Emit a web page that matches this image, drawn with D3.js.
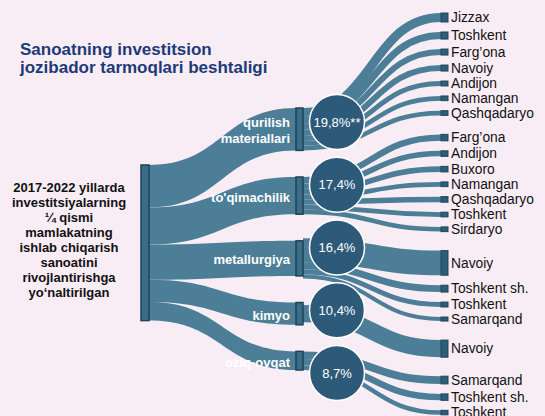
<!DOCTYPE html>
<html><head><meta charset="utf-8">
<script src="https://cdn.jsdelivr.net/npm/d3@7"></script>
<style>body{margin:0;background:#f8edf5} svg{display:block}</style>
</head><body><svg id="c" width="545" height="416"></svg>
<script>
// ---------- data ----------
const titleLines = ["Sanoatning investitsion", "jozibador tarmoqlari beshtaligi"];
const sourceLines = ["2017-2022 yillarda", "investitsiyalarning", "¼ qismi", "mamlakatning",
  "ishlab chiqarish", "sanoatini", "rivojlantirishga", "yo‘naltirilgan"];
const sectors = ["qurilish materiallari", "to'qimachilik", "metallurgiya", "kimyo", "oziq-ovqat"];
const sectorLabels = [["qurilish", "materiallari"], ["to'qimachilik"], ["metallurgiya"], ["kimyo"], ["oziq-ovqat"]];
const sectorShares = [19.8, 17.4, 16.4, 10.4, 8.7];
const shareLabels = ["19,8%**", "17,4%", "16,4%", "10,4%", "8,7%"];
const regionNames = [
  ["Jizzax", "Toshkent", "Farg’ona", "Navoiy", "Andijon", "Namangan", "Qashqadaryo"],
  ["Farg’ona", "Andijon", "Buxoro", "Namangan", "Qashqadaryo", "Toshkent", "Sirdaryo"],
  ["Navoiy", "Toshkent sh.", "Toshkent", "Samarqand"],
  ["Navoiy"],
  ["Samarqand", "Toshkent sh.", "Toshkent"]
];
const regionValues = [
  [4.2, 3.3, 2.8, 2.8, 2.3, 2.2, 2.2],
  [3.0, 2.6, 2.6, 2.2, 2.6, 2.2, 2.2],
  [11.5, 3.2, 2.3, 1.9],
  [8.0],
  [3.6, 3.0, 2.1]
];

// ---------- layout ----------
const svg = d3.select("#c");
const FONT = "'Liberation Sans', Arial, Helvetica, sans-serif";
const linkColor = "#4d7e97";
const nodeFill = "#3c6c86", nodeStroke = "#1b4359";

const total = d3.sum(sectorShares);
const h = d3.scaleLinear().domain([0, total]).range([0, 155.6]); // value -> px thickness

const col = {src: [141, 149], mid: [296, 303], right: [441, 448]};

// source node
const srcTop = 165;
const srcH = h(total);

// middle nodes: stacked between midTop and midBottom with equal gaps
const midTop = 108, midBottom = 370;
const midHeights = sectorShares.map(v => h(v));
const midGap = (midBottom - midTop - d3.sum(midHeights)) / (sectors.length - 1);
let acc = midTop;
const mids = sectors.map((s, i) => {
  const n = {name: s, y0: acc, y1: acc + midHeights[i]};
  acc = n.y1 + midGap;
  return n;
});

// circles
const circleY = d3.scalePoint().domain(sectors).range([122, 373]);
const R = 27.5;

// right nodes
const rightTop = 13, innerPad = 10, groupPad = 19;
acc = rightTop;
const rights = [];
regionNames.forEach((g, gi) => {
  if (gi > 0) acc += groupPad - innerPad;
  g.forEach((name, j) => {
    const hh = h(regionValues[gi][j]);
    rights.push({name, group: gi, value: regionValues[gi][j], y0: acc, y1: acc + hh});
    acc += hh + innerPad;
  });
});

// ---------- links source -> middle (ribbons) ----------
function ribbon(x0, y0a, y0b, x1, y1a, y1b) {
  const xm = (x0 + x1) / 2;
  return `M${x0},${y0a}C${xm},${y0a} ${xm},${y1a} ${x1},${y1a}L${x1},${y1b}C${xm},${y1b} ${xm},${y0b} ${x0},${y0b}Z`;
}
let sAcc = srcTop;
const srcLinks = mids.map((m, i) => {
  const a = sAcc, b = sAcc + midHeights[i];
  sAcc = b;
  return {a, b, m};
});
svg.append("g").selectAll("path").data(srcLinks).join("path")
  .attr("d", d => ribbon(col.src[1], d.a, d.b, col.mid[0], d.m.y0, d.m.y1))
  .attr("fill", linkColor);

// ---------- links middle -> right (strokes) ----------
const link = d3.linkHorizontal().x(d => d[0]).y(d => d[1]);
const rLinks = [];
mids.forEach((m, gi) => {
  const group = rights.filter(r => r.group === gi);
  const sum = d3.sum(group, r => r.y1 - r.y0);
  let y = (m.y0 + m.y1) / 2 - sum / 2;
  group.forEach(r => {
    const w = r.y1 - r.y0;
    rLinks.push({sy: y + w / 2, ty: (r.y0 + r.y1) / 2, w});
    y += w;
  });
});
svg.append("g").selectAll("path").data(rLinks).join("path")
  .attr("d", d => link({source: [col.mid[1], d.sy], target: [col.right[0], d.ty]}))
  .attr("fill", "none").attr("stroke", linkColor).attr("stroke-width", d => d.w);

// ---------- nodes ----------
svg.append("rect").attr("x", col.src[0]).attr("y", srcTop)
  .attr("width", col.src[1] - col.src[0]).attr("height", srcH)
  .attr("fill", nodeFill).attr("stroke", nodeStroke).attr("stroke-width", 1.5);

svg.append("g").selectAll("rect").data(mids).join("rect")
  .attr("x", col.mid[0]).attr("y", d => d.y0)
  .attr("width", col.mid[1] - col.mid[0]).attr("height", d => d.y1 - d.y0)
  .attr("fill", nodeFill).attr("stroke", nodeStroke).attr("stroke-width", 1.5);

svg.append("g").selectAll("rect").data(rights).join("rect")
  .attr("x", col.right[0]).attr("y", d => d.y0)
  .attr("width", col.right[1] - col.right[0]).attr("height", d => Math.max(3, d.y1 - d.y0))
  .attr("fill", "#2f5d76").attr("stroke", "#1d475e").attr("stroke-width", 1);

// ---------- circles ----------
const cx = 337;
svg.append("g").selectAll("circle").data(sectors).join("circle")
  .attr("cx", cx).attr("cy", d => circleY(d)).attr("r", R)
  .attr("fill", "#2d5a78").attr("stroke", "#ffffff").attr("stroke-width", 1.5);
svg.append("g").selectAll("text").data(sectors).join("text")
  .attr("x", cx).attr("y", d => circleY(d)).attr("dy", "0.36em")
  .attr("text-anchor", "middle").attr("fill", "#ffffff")
  .style("font-family", FONT).style("font-size", "13px")
  .text((d, i) => shareLabels[i]);

// ---------- labels ----------
svg.append("g").selectAll("text").data(mids).join("text")
  .attr("text-anchor", "end").attr("fill", "#ffffff")
  .style("font-family", FONT).style("font-size", "13px").style("font-weight", "bold")
  .each(function (d, i) {
    const lines = sectorLabels[i];
    const t = d3.select(this);
    const c = (d.y0 + d.y1) / 2;
    lines.forEach((l, j) => {
      t.append("tspan").attr("x", 290)
        .attr("y", c + 6 + (j - (lines.length - 1) / 2) * 16)
        .text(l);
    });
  });

svg.append("g").selectAll("text").data(rights).join("text")
  .attr("x", 451).attr("y", d => (d.y0 + d.y1) / 2).attr("dy", "0.35em")
  .attr("fill", "#111111")
  .style("font-family", FONT).style("font-size", "13.8px")
  .text(d => d.name);

// title
svg.append("g").selectAll("text").data(titleLines).join("text")
  .attr("x", 20).attr("y", (d, i) => 55 + i * 18)
  .attr("fill", "#1c3a78")
  .style("font-family", FONT).style("font-size", "17px").style("font-weight", "bold")
  .text(d => d);

// source text
svg.append("g").selectAll("text").data(sourceLines).join("text")
  .attr("x", 69).attr("y", (d, i) => 192 + i * 15)
  .attr("text-anchor", "middle").attr("fill", "#111111")
  .style("font-family", FONT).style("font-size", "13px").style("font-weight", "bold")
  .text(d => d);
</script></body></html>
